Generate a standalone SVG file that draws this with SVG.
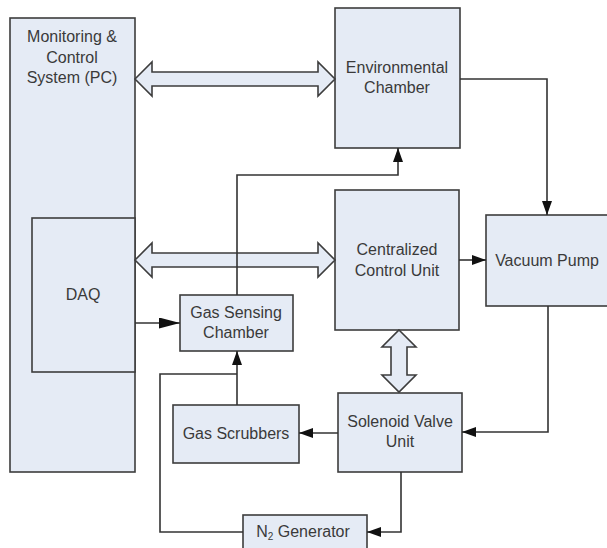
<svg xmlns="http://www.w3.org/2000/svg" width="607" height="548" viewBox="0 0 607 548">
<style>
.box{fill:#e5ebf5;stroke:#3d3d3d;stroke-width:1.6}
.lbl{font-family:"Liberation Sans",Arial,sans-serif;font-size:16px;fill:#3a3a3a;text-anchor:middle}
.wire{fill:none;stroke:#333;stroke-width:1.6}
.big{fill:#e5ebf5;stroke:#3d3d3d;stroke-width:1.6;stroke-linejoin:miter}
</style>
<defs>
<marker id="ah" markerUnits="userSpaceOnUse" markerWidth="16" markerHeight="12" refX="14" refY="5" orient="auto">
<path d="M0,0 L14,5 L0,10 Z" fill="#111"/>
</marker>
<marker id="ahL" markerUnits="userSpaceOnUse" markerWidth="22" markerHeight="12" refX="21" refY="5.5" orient="auto">
<path d="M0,0 L21,5.5 L0,11 Z" fill="#111"/>
</marker>
</defs>
<rect width="607" height="548" fill="#fff"/>
<g id="pc">
<rect class="box" x="10" y="18" width="125" height="454"/>
<text class="lbl" x="72" y="42">Monitoring &amp;</text>
<text class="lbl" x="72" y="63">Control</text>
<text class="lbl" x="72" y="83">System (PC)</text>
</g>
<g id="daq">
<rect class="box" x="32" y="218" width="103" height="154"/>
<text class="lbl" x="83" y="300">DAQ</text>
</g>
<g id="env">
<rect class="box" x="335" y="8" width="125" height="140"/>
<text class="lbl" x="397" y="73">Environmental</text>
<text class="lbl" x="397" y="93">Chamber</text>
</g>
<g id="ccu">
<rect class="box" x="335" y="190" width="124" height="140"/>
<text class="lbl" x="397" y="255">Centralized</text>
<text class="lbl" x="397" y="276">Control Unit</text>
</g>
<g id="vacuum">
<rect class="box" x="486" y="215" width="130" height="91"/>
<text class="lbl" x="547" y="266">Vacuum Pump</text>
</g>
<g id="gassensing">
<rect class="box" x="180" y="295" width="113" height="56"/>
<text class="lbl" x="236" y="318">Gas Sensing</text>
<text class="lbl" x="236" y="338">Chamber</text>
</g>
<g id="scrubbers">
<rect class="box" x="173" y="405" width="126" height="58"/>
<text class="lbl" x="236" y="439">Gas Scrubbers</text>
</g>
<g id="solenoid">
<rect class="box" x="338" y="393" width="124" height="79"/>
<text class="lbl" x="400" y="427">Solenoid Valve</text>
<text class="lbl" x="400" y="447">Unit</text>
</g>
<g id="n2">
<rect class="box" x="243" y="515" width="124" height="50"/>
<text class="lbl" x="303" y="537">N<tspan font-size="10" dy="3">2</tspan><tspan dy="-3"> Generator</tspan></text>
</g>
<g id="connectors">
<path class="big" d="M135,79 L152,62 L152,72 L318,72 L318,62 L335,79 L318,96 L318,86 L152,86 L152,96 Z"/>
<path class="big" d="M135,260 L152,243 L152,253 L318,253 L318,243 L335,260 L318,277 L318,267 L152,267 L152,277 Z"/>
<path class="big" d="M399,330 L416,347 L407,347 L407,375 L416,375 L399,392 L382,375 L391,375 L391,347 L382,347 Z"/>
<path class="wire" d="M460,79 L547,79 L547,215" marker-end="url(#ah)"/>
<path class="wire" d="M237,295 L237,175 L398,175 L398,148" marker-end="url(#ah)"/>
<path class="wire" d="M459,260 L486,260" marker-end="url(#ah)"/>
<path class="wire" d="M135,323 L180,323" stroke-width="2" marker-end="url(#ahL)"/>
<path class="wire" d="M548,306 L548,432 L462,432" marker-end="url(#ah)"/>
<path class="wire" d="M338,433 L299,433" marker-end="url(#ah)"/>
<path class="wire" d="M237,405 L237,351" marker-end="url(#ah)"/>
<path class="wire" d="M243,532 L160,532 L160,374 L237,374"/>
<path class="wire" d="M401,472 L401,532 L367,532" marker-end="url(#ah)"/>
</g>
</svg>
